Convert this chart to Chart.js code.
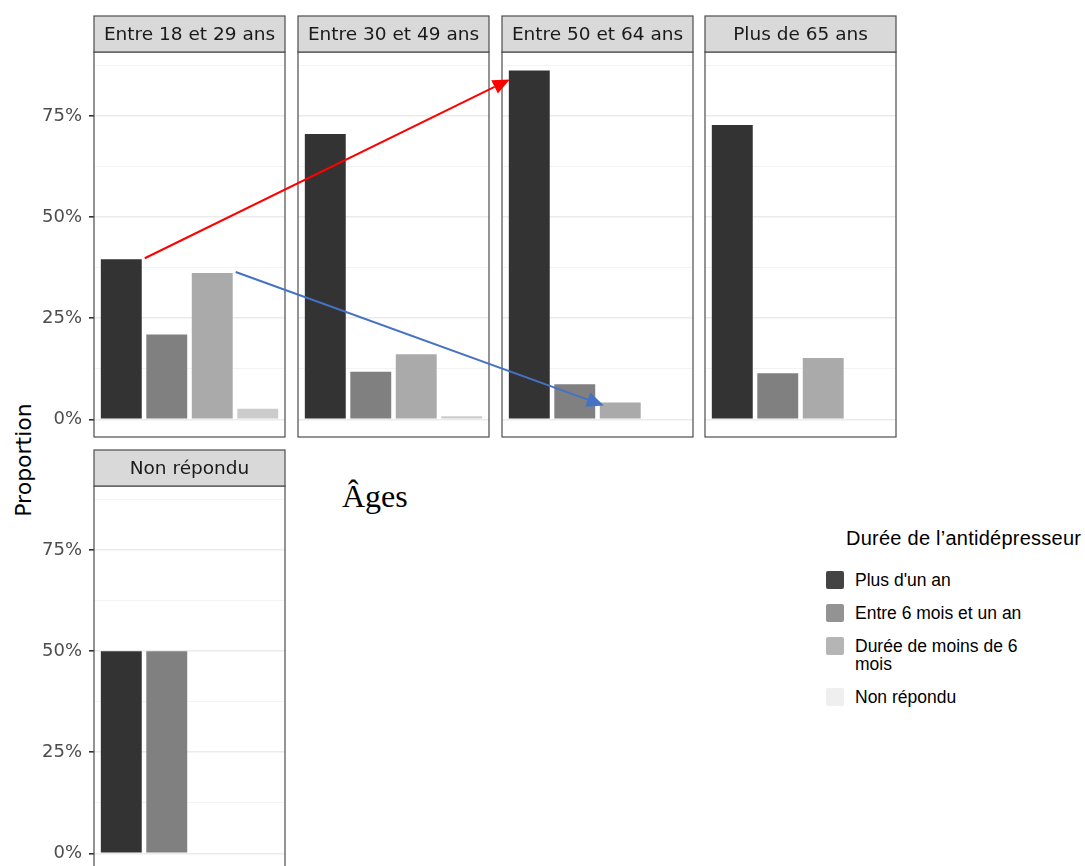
<!DOCTYPE html>
<html lang="fr">
<head>
<meta charset="utf-8">
<title>Durée de l'antidépresseur selon l'âge</title>
<script src="https://cdn.jsdelivr.net/npm/chart.js@4.4.1/dist/chart.umd.min.js"></script>
<style>
  body { margin: 0; background: #fff; }
  #page { position: relative; width: 1085px; height: 866px; overflow: hidden; }
  #page canvas { position: absolute; }
  #ylabel {
    position: absolute; left: 23px; top: 460px;
    transform: translate(-50%, -50%) rotate(-90deg);
    font: 22px "DejaVu Sans"; color: #000; white-space: nowrap;
  }
  #ages {
    position: absolute; left: 342px; top: 477px;
    font: 32px "Liberation Serif"; color: #000; line-height: 38px;
  }
  #legend { position: absolute; left: 826px; top: 526px; font-family: "Liberation Sans"; color: #000; }
  #legend .title { font-size: 20px; line-height: 24px; white-space: nowrap; margin-left: 20px; letter-spacing: 0.25px; }
  #legend .items { margin-top: 21px; display: flex; flex-direction: column; gap: 15px; }
  #legend .item { display: flex; align-items: flex-start; }
  #legend .box { width: 17.5px; height: 17.5px; border-radius: 2px; flex: none; }
  #legend .label { margin-left: 11.5px; font-size: 17.5px; line-height: 18px; max-width: 175px; }
</style>
</head>
<body>
<div id="page">
  <div id="ylabel">Proportion</div>
  <div id="ages">Âges</div>
  <div id="legend"></div>
  <canvas id="overlay" width="1085" height="866"></canvas>
</div>
<script>
// categories (durée) and facets (âge)
const durations = ["Plus d'un an", 'Entre 6 mois et un an', 'Durée de moins de 6 mois', 'Non répondu'];
const ageGroups = ['Entre 18 et 29 ans', 'Entre 30 et 49 ans', 'Entre 50 et 64 ans', 'Plus de 65 ans', 'Non répondu'];

// proportions per facet, in the order of durations
const age18to29 = [0.396, 0.210, 0.362, 0.026];
const age30to49 = [0.706, 0.118, 0.161, 0.008];
const age50to64 = [0.863, 0.087, 0.042, null];
const age65plus = [0.728, 0.114, 0.152, null];
const ageNoAnswer = [0.5, 0.5, null, null];

const yMajorTicks = [0, 0.25, 0.5, 0.75];
const yMinorTicks = [0.125, 0.375, 0.625, 0.875];

const barColors = ['#333333', '#808080', '#aaaaaa', '#cccccc'];
const legendColors = ['#444444', '#939393', '#b5b5b5', '#efefef'];

const facetValues = [age18to29, age30to49, age50to64, age65plus, ageNoAnswer];
// canvas offsets, first column keeps its y axis labels
const panelPos = [
  { left: 0, top: 0, axis: true },
  { left: 204, top: 0, axis: false },
  { left: 408, top: 0, axis: false },
  { left: 611, top: 0, axis: false },
  { left: 0, top: 434, axis: true }
];

const isMajor = v => yMajorTicks.some(t => Math.abs(t - v) < 1e-6);
const noPadding = s => { s.paddingTop = 0; s.paddingBottom = 0; s.paddingLeft = 0; s.paddingRight = 0; };

// strip + panel border, ggplot style
const panelFrame = {
  id: 'panelFrame',
  afterDraw(chart, args, opts) {
    const { ctx, chartArea: a } = chart;
    const w = a.right - a.left;
    const top = 16, h = a.top - top;
    ctx.save();
    ctx.strokeStyle = '#4d4d4d';
    ctx.lineWidth = 1.2;
    ctx.strokeRect(a.left, a.top, w, a.bottom - a.top);
    ctx.fillStyle = '#d9d9d9';
    ctx.fillRect(a.left, top, w, h);
    ctx.strokeRect(a.left, top, w, h);
    ctx.fillStyle = '#1a1a1a';
    ctx.font = '18.5px "DejaVu Sans"';
    ctx.textAlign = 'center';
    ctx.textBaseline = 'middle';
    ctx.fillText(opts.title, a.left + w / 2, top + h / 2 + 1);
    ctx.restore();
  }
};

const page = document.getElementById('page');
const overlay = document.getElementById('overlay');
const charts = [];

facetValues.forEach((values, i) => {
  const pos = panelPos[i];
  const canvas = document.createElement('canvas');
  canvas.width = 290;
  canvas.height = 440;
  canvas.style.left = pos.left + 'px';
  canvas.style.top = pos.top + 'px';
  page.insertBefore(canvas, overlay);

  const chart = new Chart(canvas.getContext('2d'), {
    type: 'bar',
    data: {
      datasets: [{
        label: ageGroups[i],
        data: values.map((v, j) => ({ x: j + 1, y: v })),
        backgroundColor: barColors,
        barPercentage: 0.9,
        categoryPercentage: 1
      }]
    },
    options: {
      responsive: false,
      animation: false,
      layout: { padding: { top: 52, bottom: 3, left: 0, right: 5 } },
      plugins: {
        legend: { display: false },
        tooltip: { enabled: false },
        panelFrame: { title: ageGroups[i] }
      },
      scales: {
        x: {
          type: 'linear',
          min: 0.4,
          max: 4.6,
          offset: false,
          display: false,
          afterBuildTicks: s => { s.ticks = durations.map((d, j) => ({ value: j + 1 })); },
          afterFit: noPadding
        },
        y: {
          min: -0.0436,
          max: 0.9085,
          afterBuildTicks: s => { s.ticks = yMajorTicks.concat(yMinorTicks).map(v => ({ value: v })); },
          afterFit: s => { s.width = 94; noPadding(s); },
          border: { display: false },
          grid: {
            color: c => isMajor(c.tick.value) ? '#ebebeb' : '#f3f3f3',
            lineWidth: c => isMajor(c.tick.value) ? 1.6 : 1,
            tickColor: c => (pos.axis && isMajor(c.tick.value)) ? '#333333' : 'rgba(0,0,0,0)',
            tickLength: 5
          },
          ticks: {
            display: pos.axis,
            autoSkip: false,
            padding: 7,
            color: '#4d4d4d',
            font: { family: 'DejaVu Sans', size: 18 },
            callback: v => isMajor(v) ? Math.round(v * 100) + '%' : ''
          }
        }
      }
    },
    plugins: [panelFrame]
  });
  charts.push(chart);
});

// legend
const legend = document.getElementById('legend');
legend.innerHTML = '<div class="title">Durée de l’antidépresseur</div><div class="items">' +
  durations.map((d, j) =>
    '<div class="item"><div class="box" style="background:' + legendColors[j] + '"></div>' +
    '<div class="label">' + d + '</div></div>').join('') + '</div>';

// arrows between facets, anchored on the bars
function barPoint(panel, idx, dx, dy, side) {
  const bar = charts[panel].getDatasetMeta(0).data[idx];
  const x = bar.x + side * bar.width / 2 + dx;
  return { x: panelPos[panel].left + x, y: panelPos[panel].top + bar.y + dy };
}

function arrow(ctx, from, to, color) {
  const ang = Math.atan2(to.y - from.y, to.x - from.x);
  const len = 17, half = 7.5;
  const bx = to.x - len * Math.cos(ang), by = to.y - len * Math.sin(ang);
  ctx.strokeStyle = color;
  ctx.fillStyle = color;
  ctx.lineWidth = 2;
  ctx.beginPath();
  ctx.moveTo(from.x, from.y);
  ctx.lineTo(bx, by);
  ctx.stroke();
  ctx.beginPath();
  ctx.moveTo(to.x, to.y);
  ctx.lineTo(bx + half * Math.sin(ang), by - half * Math.cos(ang));
  ctx.lineTo(bx - half * Math.sin(ang), by + half * Math.cos(ang));
  ctx.closePath();
  ctx.fill();
}

const octx = overlay.getContext('2d');
arrow(octx, barPoint(0, 0, 3, -1, 1), barPoint(2, 0, 1, 9, -1), '#ff0000');
arrow(octx, barPoint(0, 2, 3, -1, 1), barPoint(2, 2, 4, 3, -1), '#4472c4');
</script>
</body>
</html>
